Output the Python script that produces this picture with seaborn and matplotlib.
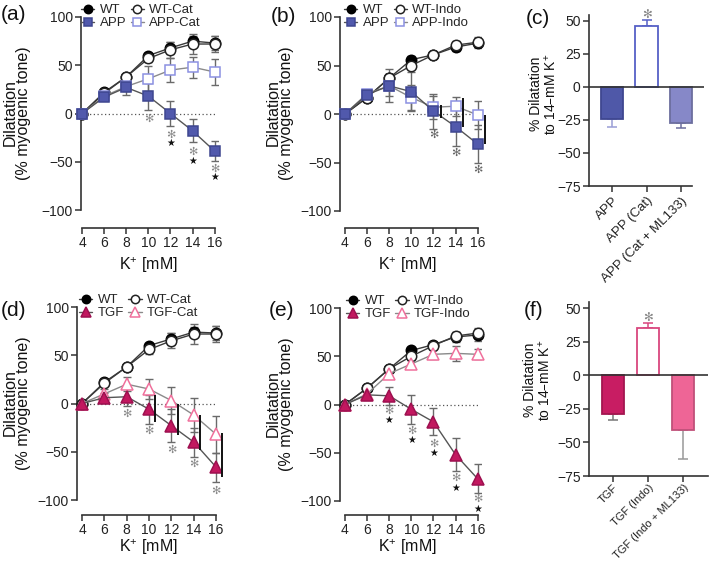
import numpy as np
import pandas as pd
import matplotlib
matplotlib.use("Agg")
import matplotlib.pyplot as plt
import seaborn as sns
from matplotlib.lines import Line2D

sns.set_theme(style="ticks")
plt.rcParams["font.family"] = ["Liberation Sans", "DejaVu Sans"]
plt.rcParams["mathtext.default"] = "regular"

# ---------------- data ----------------
K = [4, 6, 8, 10, 12, 14, 16]

# (a) WT / WT-Cat / APP / APP-Cat
a_wt = [0, 22, 38, 60, 68, 75, 73]
a_wt_err = [0, 2, 3, 3, 6, 5, 7]
a_wtcat = [0, 21, 38, 57, 66, 72, 72]
a_wtcat_err = [0, 2, 3, 4, 8, 10, 8]
a_app = [0, 17, 27, 18, 0, -18, -39]
a_app_err = [0, 3, 8, 14, 13, 12, 10]
a_appcat = [0, 18, 28, 36, 45, 48, 43]
a_appcat_err = [0, 3, 5, 13, 12, 11, 13]
a_gray_x = [10, 12, 14, 16]
a_gray_y = [-6, -22, -40, -57]
a_black_x = [12, 14, 16]
a_black_y = [-31, -49, -66]

# (b) WT / WT-Indo / APP / APP-Indo
b_wt = [0, 17, 37, 56, 61, 69, 73]
b_wt_err = [0, 3, 4, 4, 3, 4, 5]
b_wtindo = [0, 17, 37, 50, 61, 71, 74]
b_wtindo_err = [0, 3, 4, 4, 3, 4, 5]
b_app = [0, 20, 29, 23, 3, -13, -31]
b_app_err = [0, 5, 17, 20, 18, 20, 20]
b_appindo = [0, 21, 29, 17, 7, 8, -1]
b_appindo_err = [0, 4, 10, 13, 12, 10, 14]
b_gray_x = [12, 14, 16]
b_gray_y = [-22, -40, -58]
b_sig_x = [12, 14, 16]
b_sig_hi = [9, 17, -1]
b_sig_lo = [-4, -13, -31]

# (c) bars
c_groups = ["APP", "APP (Cat)", "APP (Cat + ML133)"]
c_vals = [-24, 46, -27]
c_errs = [6, 5, 4]
c_star_y = 55

# (d) WT / WT-Cat / TGF / TGF-Cat
d_wt = [0, 22, 38, 60, 67, 74, 73]
d_wt_err = [0, 2, 3, 3, 6, 5, 7]
d_wtcat = [0, 21, 38, 56, 65, 72, 72]
d_wtcat_err = [0, 2, 3, 5, 8, 10, 8]
d_tgf = [0, 6, 7, -6, -23, -40, -66]
d_tgf_err = [0, 5, 10, 15, 17, 15, 15]
d_tgfcat = [0, 10, 20, 15, 3, -12, -32]
d_tgfcat_err = [0, 5, 7, 10, 14, 18, 19]
d_gray_x = [8, 10, 12, 14, 16]
d_gray_y = [-11, -28, -48, -63, -90]
d_sig_x = [10, 12, 14, 16]
d_sig_hi = [9, 0, -12, -31]
d_sig_lo = [-19, -33, -48, -76]

# (e) WT / WT-Indo / TGF / TGF-Indo
e_wt = [0, 17, 37, 56, 62, 70, 72]
e_wt_err = [0, 3, 3, 4, 3, 5, 6]
e_wtindo = [0, 17, 37, 50, 61, 71, 74]
e_wtindo_err = [0, 3, 3, 4, 3, 4, 5]
e_tgf = [0, 10, 9, -5, -18, -52, -77]
e_tgf_err = [0, 5, 9, 15, 14, 17, 15]
e_tgfindo = [0, 11, 32, 42, 52, 53, 52]
e_tgfindo_err = [0, 4, 4, 4, 5, 8, 5]
e_gray_x = [8, 10, 12, 14, 16]
e_gray_y = [-7, -27, -41, -76, -98]
e_black_x = [8, 10, 12, 14, 16]
e_black_y = [-16, -37, -50, -86, -108]

# (f) bars
f_groups = ["TGF", "TGF (Indo)", "TGF (Indo + ML133)"]
f_vals = [-29, 35.5, -41]
f_errs = [4, 3, 21]
f_star_y = 43

# ---------------- styles ----------------
ST = {
    "WT": dict(m="o", ms=7.5, fc="black", ec="black", lc="#3a3a3a"),
    "WTo": dict(m="o", ms=7.5, fc="white", ec="#222222", lc="#3a3a3a"),
    "APP": dict(m="s", ms=7.5, fc="#5159AC", ec="#3E4690", lc="#555555"),
    "APPo": dict(m="s", ms=7.5, fc="white", ec="#8C91E2", lc="#8a8a8a"),
    "TGF": dict(m="^", ms=8.5, fc="#C2185F", ec="#9E1050", lc="#555555"),
    "TGFo": dict(m="^", ms=8.5, fc="white", ec="#F0709C", lc="#8a8a8a"),
}

W, H = 709, 568
fig = plt.figure(figsize=(W / 100, H / 100), dpi=100)


def add_ax(l, t, r, b):
    return fig.add_axes([l / W, 1 - b / H, (r - l) / W, (b - t) / H])


def ftext(x, y, s, **kw):
    return fig.text(x / W, 1 - y / H, s, **kw)


def style_axis(ax):
    for sp in ["left", "bottom"]:
        ax.spines[sp].set_color("#333333")
        ax.spines[sp].set_linewidth(1.2)
    ax.tick_params(direction="out", length=4, width=1.1, colors="#333333",
                   labelcolor="#222222", labelsize=10, pad=2)


def line_panel(ax, series, xlim, offset_pt):
    ax.hlines(0, K[0], K[-1], colors="#555555", linestyles=(0, (1, 2)), lw=0.9, zorder=1)
    for v, e, key in series:
        ax.errorbar(K, v, yerr=e, fmt="none", ecolor="#6a6a6a", elinewidth=1.0,
                    capsize=2.8, capthick=1.0, zorder=2)
    for i, (v, e, key) in enumerate(series):
        st = ST[key]
        sns.lineplot(x=K, y=v, ax=ax, color=st["lc"], lw=1.0, marker=st["m"],
                     markersize=st["ms"], markerfacecolor=st["fc"],
                     markeredgecolor=st["ec"], markeredgewidth=1.1,
                     zorder=3 + i, clip_on=False)
    ax.set_xlim(*xlim)
    ax.set_ylim(-100, 100)
    sns.despine(ax=ax)
    ax.spines["left"].set_bounds(-100, 100)
    ax.spines["bottom"].set_bounds(4, 16)
    ax.spines["bottom"].set_position(("outward", offset_pt))
    ax.set_xticks(K)
    ax.set_yticks([-100, -50, 0, 50, 100])
    ax.set_xlabel("")
    ax.set_ylabel("")
    style_axis(ax)


def legend(ax, keys, labels, x, y):
    handles = []
    for key in keys:
        st = ST[key]
        handles.append(Line2D([], [], color=st["lc"], lw=1.0, marker=st["m"],
                              markersize=st["ms"] - 1.5, markerfacecolor=st["fc"],
                              markeredgecolor=st["ec"], markeredgewidth=1.1))
    ax.legend(handles, labels, ncol=2, loc="upper left",
              bbox_to_anchor=(x / W, 1 - y / H), bbox_transform=fig.transFigure,
              frameon=False, borderpad=0, borderaxespad=0, handlelength=1.0,
              handletextpad=0.4, columnspacing=0.35, labelspacing=0.05,
              fontsize=9.5)


def stars(ax, xs, ys, color, sym, size):
    for x, y in zip(xs, ys):
        ax.text(x, y, sym, color=color, ha="center", va="center", fontsize=size,
                family=["DejaVu Sans"], clip_on=False, zorder=6)


def sig_lines(ax, xs, lo, hi, dx):
    ax.vlines([x + dx for x in xs], lo, hi, colors="#111111", lw=1.4,
              clip_on=False, zorder=6)


def bar_panel(ax, groups, vals, errs, faces, edges, ecolors, star_y, xlim, spine_right,
              lab_size, lab_pad):
    df = pd.DataFrame({"g": groups, "v": vals})
    sns.barplot(data=df, x="g", y="v", hue="g", palette=dict(zip(groups, faces)),
                width=0.64, ax=ax, legend=False, saturation=1, errorbar=None)
    for p, ec in zip(ax.patches, edges):
        p.set_edgecolor(ec)
        p.set_linewidth(1.3)
        p.set_zorder(3)
    for i, (v, e) in enumerate(zip(vals, errs)):
        yerr = [[e], [0]] if v < 0 else [[0], [e]]
        ax.errorbar([i], [v], yerr=yerr, fmt="none", ecolor=ecolors[i],
                    elinewidth=1.1, capsize=3.8, capthick=1.1, zorder=2)
    ax.axhline(0, color="#333333", lw=1.2, zorder=4)
    ax.text(1, star_y, "✻", color="#888888", ha="center", va="center",
            fontsize=8.5, family=["DejaVu Sans"], clip_on=False)
    ax.set_xlim(*xlim)
    ax.set_ylim(-75, 54.5)
    sns.despine(ax=ax)
    ax.spines["left"].set_bounds(-75, 54.5)
    ax.spines["bottom"].set_bounds(xlim[0], spine_right)
    ax.set_yticks([-75, -50, -25, 0, 25, 50])
    ax.set_xticks(range(len(groups)))
    ax.set_xticklabels(groups, rotation=45, ha="right", rotation_mode="anchor")
    ax.set_xlabel("")
    ax.set_ylabel("")
    style_axis(ax)
    ax.tick_params(axis="x", labelsize=lab_size, pad=lab_pad)


# ---------------- panel (a) ----------------
axa = add_ax(81, 17, 218, 210)
line_panel(axa, [(a_wt, a_wt_err, "WT"), (a_wtcat, a_wtcat_err, "WTo"),
                 (a_appcat, a_appcat_err, "APPo"), (a_app, a_app_err, "APP")],
           (3.9, 16.3), 13)
legend(axa, ["WT", "APP", "WTo", "APPo"], ["WT", "APP", "WT-Cat", "APP-Cat"], 81, 4)
stars(axa, a_gray_x, a_gray_y, "#8a8a8a", "✻", 8)
stars(axa, a_black_x, a_black_y, "#111111", "★", 7)

# ---------------- panel (b) ----------------
axb = add_ax(340, 17, 481, 211)
line_panel(axb, [(b_wt, b_wt_err, "WT"), (b_wtindo, b_wtindo_err, "WTo"),
                 (b_appindo, b_appindo_err, "APPo"), (b_app, b_app_err, "APP")],
           (3.55, 16.3), 12.2)
legend(axb, ["WT", "APP", "WTo", "APPo"], ["WT", "APP", "WT-Indo", "APP-Indo"], 344, 4)
stars(axb, b_gray_x, b_gray_y, "#666666", "✻", 8)
sig_lines(axb, b_sig_x, b_sig_lo, b_sig_hi, 0.7)

# ---------------- panel (c) ----------------
axc = add_ax(589, 15, 703.5, 186)
bar_panel(axc, c_groups, c_vals, c_errs,
          ["#4F58A8", "white", "#8688C8"],
          ["#3F4790", "#5660C6", "#6C6E9E"],
          ["#9A9ED6", "#5660C6", "#6C6E9E"],
          c_star_y, (-0.667, 2.65), 2.32, 9.5, 2.5)

# ---------------- panel (d) ----------------
axd = add_ax(77, 307, 219.5, 500)
line_panel(axd, [(d_wt, d_wt_err, "WT"), (d_wtcat, d_wtcat_err, "WTo"),
                 (d_tgfcat, d_tgfcat_err, "TGFo"), (d_tgf, d_tgf_err, "TGF")],
           (3.55, 16.3), 10.8)
legend(axd, ["WT", "TGF", "WTo", "TGFo"], ["WT", "TGF", "WT-Cat", "TGF-Cat"], 79, 294)
stars(axd, d_gray_x, d_gray_y, "#8a8a8a", "✻", 8)
sig_lines(axd, d_sig_x, d_sig_lo, d_sig_hi, 0.55)

# ---------------- panel (e) ----------------
axe = add_ax(340, 308, 481, 501)
line_panel(axe, [(e_wt, e_wt_err, "WT"), (e_wtindo, e_wtindo_err, "WTo"),
                 (e_tgfindo, e_tgfindo_err, "TGFo"), (e_tgf, e_tgf_err, "TGF")],
           (3.55, 16.3), 10)
legend(axe, ["WT", "TGF", "WTo", "TGFo"], ["WT", "TGF", "WT-Indo", "TGF-Indo"], 346, 295)
stars(axe, e_gray_x, e_gray_y, "#8a8a8a", "✻", 8)
stars(axe, e_black_x, e_black_y, "#111111", "★", 7)

# ---------------- panel (f) ----------------
axf = add_ax(589, 302, 708, 476)
bar_panel(axf, f_groups, f_vals, f_errs,
          ["#C81D63", "white", "#EE6596"],
          ["#A31650", "#D9467E", "#C0507A"],
          ["#777777", "#D9467E", "#999999"],
          f_star_y, (-0.686, 2.71), 2.71, 8.0, 0.5)

# ---------------- labels ----------------
ylab = "Dilatation\n(% myogenic tone)"
for (x, y) in [(17, 113), (280, 113), (17, 403), (280, 404)]:
    ftext(x, y, ylab, rotation=90, ha="center", va="center", fontsize=11.5,
          linespacing=0.9, color="#111111")
for (x, y) in [(148, 265), (407, 265), (148, 547), (407, 547)]:
    ftext(x, y, "K$^{+}$ [mM]", ha="center", va="center", fontsize=11.5, color="#111111")
for (x, y) in [(544, 94), (538, 380)]:
    ftext(x, y, "% Dilatation\nto 14–mM K$^{+}$", rotation=90, ha="center", va="center",
          fontsize=10, linespacing=0.95, color="#111111")
for (x, y, s) in [(14, 15, "(a)"), (283, 16, "(b)"), (538, 18, "(c)"),
                  (14, 310, "(d)"), (282, 310, "(e)"), (534, 310, "(f)")]:
    ftext(x, y, s, ha="center", va="center", fontsize=15, color="#111111")

fig.savefig("out.png", dpi=100)
